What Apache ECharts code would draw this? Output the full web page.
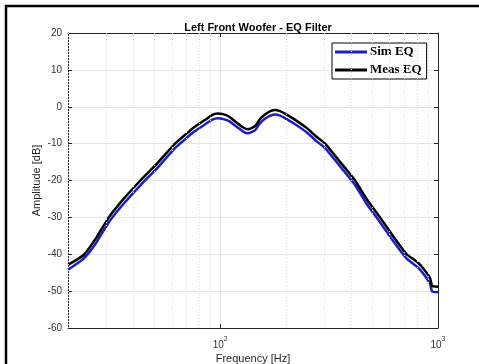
<!DOCTYPE html>
<html>
<head>
<meta charset="utf-8">
<script src="https://cdn.jsdelivr.net/npm/echarts@6/dist/echarts.min.js"></script>
<style>
html,body{margin:0;padding:0;background:#fff;}
#c{width:479px;height:364px;}
</style>
</head>
<body>
<div id="c"></div>
<script>
const titleText = 'Left Front Woofer - EQ Filter';
const seriesNames = ['Sim EQ', 'Meas EQ'];
const freqs = [20, 23.6, 27, 30.8, 36, 43, 52, 62, 70, 75, 85, 92, 97, 103, 110, 120, 128, 134, 140, 145, 152, 160, 170, 179, 188, 200, 220, 250, 275, 303, 350, 416, 470, 542, 620, 718, 770, 810, 860, 920, 940, 1000];
const simEQ = [-44.2, -41.2, -36.8, -31.3, -26.3, -21.3, -16.3, -11.2, -8.5, -7.0, -4.8, -3.5, -3.1, -3.3, -3.9, -5.6, -6.8, -7.2, -6.8, -6.3, -4.5, -3.3, -2.4, -2.1, -2.4, -3.2, -4.7, -7.0, -9.2, -11.2, -15.7, -21.2, -26.3, -31.3, -36.3, -41.2, -42.6, -43.6, -45.4, -48.0, -50.1, -50.3];
const measEQ = [-42.9, -40.2, -35.5, -30.0, -25.0, -20.0, -15.0, -10.0, -7.3, -5.8, -3.6, -2.2, -1.8, -2.0, -2.7, -4.5, -5.7, -6.1, -5.7, -5.2, -3.4, -2.2, -1.2, -0.9, -1.2, -2.0, -3.5, -5.8, -8.0, -10.0, -14.5, -20.0, -25.0, -30.0, -35.0, -40.0, -41.3, -42.3, -44.0, -46.5, -48.6, -48.8];
const minorGridFreqs = [20, 30, 40, 50, 60, 70, 80, 90, 200, 300, 400, 500, 600, 700, 800, 900];
const yTicks = {min: -60, max: 20, interval: 10};
const xRange = {min: 20, max: 1000};

const axisColor = '#262626';
const gridColor = '#e6e6e6';
const FONT = 'Arial, Liberation Sans, sans-serif';

function pairs(xs, ys) { return xs.map((x, i) => [x, ys[i]]); }

function xLabel(v) {
  const e = Math.log10(v);
  const r = Math.round(e);
  if (Math.abs(e - r) < 1e-6) return '{b|10}{s|' + r + '}';
  return '';
}

const chart = echarts.init(document.getElementById('c'), null, {renderer: 'canvas'});
chart.setOption({
  animation: false,
  backgroundColor: '#fff',
  title: {
    text: titleText,
    left: 253, top: 17, textAlign: 'center',
    textStyle: {fontFamily: FONT, fontSize: 11, fontWeight: 'bold', color: '#000'}
  },
  legend: {
    orient: 'vertical',
    left: 332, top: 43,
    data: seriesNames.map(n => ({name: n, icon: 'rect'})),
    itemWidth: 32, itemHeight: 3,
    itemGap: 2,
    padding: [1, 5, 1, 3],
    backgroundColor: '#fff',
    borderColor: '#000', borderWidth: 1, borderRadius: 0,
    textStyle: {fontFamily: 'Liberation Serif, Times New Roman, serif', fontSize: 13, fontWeight: 'bold', color: '#000', lineHeight: 16, padding: [0, 0, 0, -2]}
  },
  grid: {left: 68, right: 41, top: 33, bottom: 36, containLabel: false, outerBoundsMode: 'none'},
  xAxis: [{
    type: 'log', logBase: 10, min: xRange.min, max: xRange.max,
    name: 'Frequency [Hz]', nameLocation: 'middle', nameGap: 25, nameMoveOverlap: false,
    nameTextStyle: {fontFamily: FONT, fontSize: 11, color: axisColor},
    axisLine: {show: true, onZero: false, lineStyle: {color: axisColor, width: 1}},
    axisTick: {show: true, inside: true, length: 4, lineStyle: {color: axisColor}},
    axisLabel: {
      formatter: xLabel, margin: 8, color: axisColor, showMinLabel: false,
      rich: {
        b: {fontFamily: FONT, fontSize: 10, color: '#333', verticalAlign: 'bottom', lineHeight: 14},
        s: {fontFamily: FONT, fontSize: 7, color: '#333', verticalAlign: 'top', lineHeight: 14}
      }
    },
    splitLine: {show: true, lineStyle: {color: gridColor, width: 1}}
  }, {
    type: 'log', logBase: 10, min: xRange.min, max: xRange.max, position: 'top',
    axisLine: {show: true, onZero: false, lineStyle: {color: axisColor, width: 1}},
    axisTick: {show: true, inside: true, length: 4, lineStyle: {color: axisColor}},
    axisLabel: {show: false}, splitLine: {show: false}
  }],
  yAxis: [{
    type: 'value', min: yTicks.min, max: yTicks.max, interval: yTicks.interval,
    name: 'Amplitude [dB]', nameLocation: 'middle', nameGap: 26, nameMoveOverlap: false,
    nameTextStyle: {fontFamily: FONT, fontSize: 11, color: axisColor},
    axisLine: {show: true, onZero: false, lineStyle: {color: axisColor, width: 1}},
    axisTick: {show: true, inside: true, length: 4, lineStyle: {color: axisColor}},
    axisLabel: {margin: 6, color: '#333', fontFamily: FONT, fontSize: 10},
    splitLine: {show: true, lineStyle: {color: gridColor, width: 1}}
  }, {
    type: 'value', min: yTicks.min, max: yTicks.max, interval: yTicks.interval, position: 'right',
    axisLine: {show: true, onZero: false, lineStyle: {color: axisColor, width: 1}},
    axisTick: {show: true, inside: true, length: 4, lineStyle: {color: axisColor}},
    axisLabel: {show: false}, splitLine: {show: false}
  }],
  series: [{
    name: seriesNames[0], type: 'line', xAxisIndex: 0, yAxisIndex: 0,
    data: pairs(freqs, simEQ), showSymbol: false, symbol: 'none', smooth: 0.15,
    lineStyle: {color: '#1c1cc8', width: 2.5}, itemStyle: {color: '#1c1cc8'},
    z: 3,
    markLine: {
      silent: true, symbol: ['none', 'none'], animation: false,
      label: {show: false},
      lineStyle: {color: '#d9d9d9', width: 1, type: [1, 2]},
      data: minorGridFreqs.map(f => ({xAxis: f}))
    }
  }, {
    name: seriesNames[1], type: 'line', xAxisIndex: 0, yAxisIndex: 0,
    data: pairs(freqs, measEQ), showSymbol: false, symbol: 'none', smooth: 0.15,
    lineStyle: {color: '#000', width: 2.5}, itemStyle: {color: '#000'},
    z: 4
  }],
  graphic: [
    {type: 'line', shape: {x1: 5, y1: 6, x2: 479, y2: 6}, style: {stroke: '#000', lineWidth: 2.5}, z: 100},
    {type: 'line', shape: {x1: 6, y1: 5, x2: 6, y2: 364}, style: {stroke: '#000', lineWidth: 2.5}, z: 100}
  ]
});
</script>
</body>
</html>
